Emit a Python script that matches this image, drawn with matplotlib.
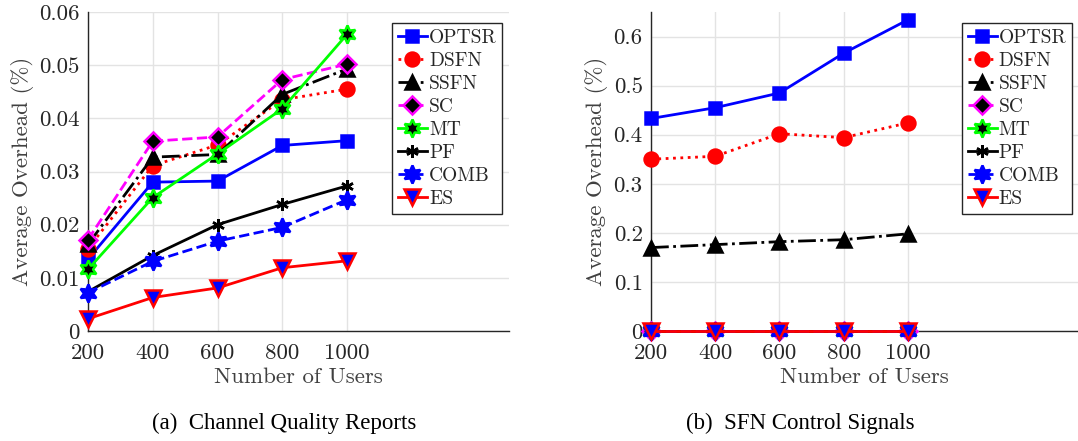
import matplotlib
matplotlib.use("Agg")
import matplotlib.pyplot as plt

users = [200, 400, 600, 800, 1000]
series_names = ["OPTSR", "DSFN", "SSFN", "SC", "MT", "PF", "COMB", "ES"]

# (a) Channel Quality Reports
cqr_optsr = [0.0135, 0.0280, 0.0282, 0.0349, 0.0358]
cqr_dsfn = [0.0155, 0.0311, 0.0350, 0.0435, 0.0455]
cqr_ssfn = [0.0163, 0.0327, 0.0332, 0.0445, 0.0493]
cqr_sc = [0.0172, 0.0357, 0.0365, 0.0473, 0.0502]
cqr_mt = [0.0116, 0.0251, 0.0333, 0.0418, 0.0558]
cqr_pf = [0.0074, 0.0142, 0.0200, 0.0238, 0.0273]
cqr_comb = [0.0072, 0.0131, 0.0169, 0.0195, 0.0247]
cqr_es = [0.0023, 0.0063, 0.0081, 0.0119, 0.0132]

# (b) SFN Control Signals
sfn_optsr = [0.433, 0.455, 0.485, 0.566, 0.634]
sfn_dsfn = [0.350, 0.356, 0.402, 0.394, 0.424]
sfn_ssfn = [0.170, 0.176, 0.182, 0.186, 0.198]
sfn_sc = [0, 0, 0, 0, 0]
sfn_mt = [0, 0, 0, 0, 0]
sfn_pf = [0, 0, 0, 0, 0]
sfn_comb = [0, 0, 0, 0, 0]
sfn_es = [0, 0, 0, 0, 0]

left_ticks = [0, 0.01, 0.02, 0.03, 0.04, 0.05, 0.06]
left_ticklabels = ["0", "0.01", "0.02", "0.03", "0.04", "0.05", "0.06"]
right_ticks = [0, 0.1, 0.2, 0.3, 0.4, 0.5, 0.6]
right_ticklabels = ["0", "0.1", "0.2", "0.3", "0.4", "0.5", "0.6"]
captions = ["(a)  Channel Quality Reports", "(b)  SFN Control Signals"]

GREEN = "#00ff00"
styles = [
    dict(color="blue", ls="-", marker="s", mfc="blue", mec="blue"),
    dict(color="red", ls=":", marker="o", mfc="red", mec="red"),
    dict(color="black", ls="-.", marker="^", mfc="black", mec="black"),
    dict(color="magenta", ls="--", marker="D", mfc="black", mec="magenta"),
    dict(color=GREEN, ls="-", marker=(6, 1, 0), mfc="black", mec=GREEN),
    dict(color="black", ls="-", marker=(6, 2, 0), mfc="black", mec="black"),
    dict(color="blue", ls="--", marker=(6, 1, 0), mfc="blue", mec="blue"),
    dict(color="red", ls="-", marker="v", mfc="blue", mec="red"),
]
msizes = [9, 10, 10, 9, 13, 9, 13, 11]

fig = plt.figure(figsize=(10.78, 4.41), dpi=100)
ax1 = fig.add_axes([88/1078, 1-331/441, 421/1078, 319/441])
ax2 = fig.add_axes([651/1078, 1-331/441, 427/1078, 319/441])

TICK_FONT = "cmr10"
GREY = "#262626"

def draw(ax, data, ylim, yticks, yticklabels, xmax, legx):
    for name, vals, st, ms in zip(series_names, data, styles, msizes):
        ax.plot(users, vals, color=st["color"], ls=st["ls"], lw=2.0,
                marker=st["marker"], markersize=ms, markerfacecolor=st["mfc"],
                markeredgecolor=st["mec"], markeredgewidth=1.8, label=name,
                clip_on=False, zorder=3)
    ax.set_xlim(200, xmax)
    ax.set_ylim(*ylim)
    ax.set_xticks(users)
    ax.set_xticklabels([str(u) for u in users], fontfamily=TICK_FONT, fontsize=16.5, color=GREY)
    ax.set_yticks(yticks)
    ax.set_yticklabels(yticklabels, fontfamily=TICK_FONT, fontsize=16.5, color=GREY)
    ax.grid(True, color="#e3e3e3", lw=1.0)
    ax.set_axisbelow(True)
    for s in ["top", "right"]:
        ax.spines[s].set_visible(False)
    for s in ["left", "bottom"]:
        ax.spines[s].set_color("#262626")
        ax.spines[s].set_linewidth(1.0)
    ax.tick_params(axis="y", direction="in", length=0, pad=6)
    ax.tick_params(axis="x", direction="in", length=0, pad=9)
    ax.set_xlabel("Number of Users", fontfamily=TICK_FONT, fontsize=16.5, color="#404040", labelpad=3)
    ax.set_ylabel("Average Overhead (%)", fontfamily=TICK_FONT, fontsize=16.5, color="#404040", labelpad=4)
    leg = ax.legend(loc="upper left", bbox_to_anchor=(legx, 0.965), frameon=True,
                    fancybox=False, edgecolor="#262626", framealpha=1.0,
                    prop={"family": TICK_FONT, "size": 14}, handlelength=1.5,
                    handletextpad=0.1, labelspacing=0.26, borderpad=0.3,
                    borderaxespad=0)
    leg.get_frame().set_linewidth(1.0)
    for t in leg.get_texts():
        t.set_color(GREY)

draw(ax1, [cqr_optsr, cqr_dsfn, cqr_ssfn, cqr_sc, cqr_mt, cqr_pf, cqr_comb, cqr_es],
     (0, 0.06), left_ticks, left_ticklabels, 1500, 0.722)
draw(ax2, [sfn_optsr, sfn_dsfn, sfn_ssfn, sfn_sc, sfn_mt, sfn_pf, sfn_comb, sfn_es],
     (0, 0.65), right_ticks, right_ticklabels, 1530, 0.728)

fig.text(284/1078, 1-423/441, captions[0], ha="center", va="center",
         fontfamily="Liberation Serif", fontsize=16.5)
fig.text(800/1078, 1-423/441, captions[1], ha="center", va="center",
         fontfamily="Liberation Serif", fontsize=16.5)

fig.savefig("out.png", dpi=100)
